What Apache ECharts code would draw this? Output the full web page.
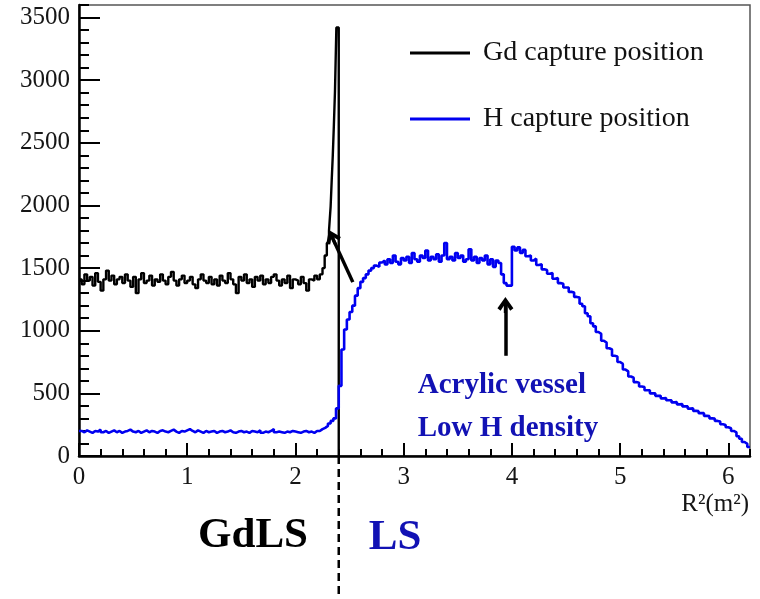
<!DOCTYPE html>
<html>
<head>
<meta charset="utf-8">
<script src="https://cdn.jsdelivr.net/npm/echarts@6/dist/echarts.min.js"></script>
<style>
  html, body { margin: 0; padding: 0; background: #fff; }
  #chart { width: 760px; height: 599px; }
</style>
</head>
<body>
<div id="chart"></div>
<script>
// histogram bins (lower edges at i * binWidth)
const binWidth = 0.025;
const xMax = 6.2;
const yMax = 3600;

// Gd capture position, flat part 0 .. 2.25
const gdFlatCounts = [
  1410, 1370, 1450, 1400, 1430, 1360, 1460, 1390, 1320, 1410,
  1480, 1400, 1440, 1370, 1410, 1430, 1380, 1450, 1400, 1350,
  1430, 1300, 1410, 1460, 1380, 1400, 1440, 1360, 1410, 1390,
  1450, 1400, 1370, 1430, 1470, 1400, 1360, 1410, 1440, 1380,
  1400, 1430, 1370, 1340, 1410, 1450, 1400, 1380, 1430, 1370,
  1410, 1360, 1440, 1400, 1380, 1460, 1410, 1370, 1300, 1430,
  1400, 1450, 1380, 1410, 1350, 1430, 1400, 1440, 1370, 1410,
  1380, 1430, 1450, 1400, 1360, 1410, 1380, 1440, 1340, 1410,
  1400, 1370, 1430, 1380, 1320, 1410, 1400, 1440, 1410, 1450
];
// Gd peak near the GdLS boundary (finer bins)
const gdPeakEdges = [2.25, 2.27, 2.29, 2.31, 2.325, 2.335, 2.345, 2.355, 2.365, 2.378, 2.4];
const gdPeakCounts = [1500, 1600, 1700, 1800, 1990, 2200, 2400, 2640, 2905, 3420, 0];

// H capture position, 0 .. 6.2
const hCounts = [
  200, 190, 205, 195, 185, 200, 195, 210, 190, 200,
  185, 195, 205, 190, 200, 185, 195, 200, 210, 195,
  190, 200, 185, 195, 205, 190, 200, 195, 185, 200,
  205, 195, 190, 200, 210, 195, 185, 200, 195, 205,
  215, 200, 190, 205, 195, 185, 200, 190, 195, 200,
  185, 195, 200, 190, 195, 205, 190, 185, 195, 200,
  190, 195, 185, 200, 195, 190, 205, 185, 195, 190,
  200, 215, 190, 195, 190, 185, 195, 190, 200, 195,
  190, 185, 195, 200, 190, 195, 185, 200, 200, 215,
  225, 240, 260, 280, 300, 380, 560, 850, 1010, 1090,
  1150, 1200, 1280, 1340, 1390, 1420, 1450, 1480, 1500, 1520,
  1510, 1545, 1560, 1530, 1570, 1540, 1600, 1550, 1530, 1580,
  1560, 1590, 1540, 1620, 1570, 1550, 1600, 1580, 1640, 1560,
  1590, 1570, 1610, 1550, 1600, 1700, 1570, 1590, 1560, 1620,
  1580, 1600, 1550, 1570, 1650, 1560, 1590, 1540, 1580, 1560,
  1600, 1530, 1570, 1510, 1560, 1540, 1450, 1380, 1360, 1360,
  1670, 1640, 1665, 1620, 1645, 1595, 1600, 1560, 1575, 1525,
  1530, 1490, 1485, 1455, 1460, 1415, 1420, 1380, 1375, 1345,
  1345, 1310, 1305, 1270, 1265, 1215, 1195, 1140, 1115, 1060,
  1035, 990, 975, 920, 905, 860, 850, 800, 795, 750,
  735, 690, 675, 635, 625, 590, 585, 555, 550, 525,
  525, 500, 500, 480, 480, 460, 462, 445, 445, 428,
  430, 412, 415, 396, 396, 378, 380, 360, 358, 342,
  342, 320, 318, 300, 298, 280, 275, 254, 248, 230,
  222, 200, 188, 158, 138, 112, 97, 72
];

const legendNames = ['Gd capture position', 'H capture position'];
const serif = 'Liberation Serif';

const gdData = gdFlatCounts.map((v, i) => [+(i * binWidth).toFixed(3), v]);
gdPeakEdges.forEach((x, i) => gdData.push([x, gdPeakCounts[i]]));

const hData = hCounts.map((v, i) => [+(i * binWidth).toFixed(3), v]);
hData.push([xMax, hCounts[hCounts.length - 1]]);

// arrow head with a short spine, tip pointing up
const arrowHead = 'path://M5,0 L10,7 L8,8.5 L6,5.5 L6,10 L4,10 L4,5.5 L2,8.5 L0,7 Z';

const chart = echarts.init(document.getElementById('chart'));

// one axis for the long ticks + labels, a second one on the same side for the short ticks
const tickAxis = (pos, len, interval, max, showLine, label) => ({
  type: 'value',
  position: pos,
  min: 0,
  max: max,
  interval: interval,
  axisLine: { show: showLine, onZero: false, lineStyle: { color: '#000', width: 2.5 } },
  axisTick: { show: true, inside: true, length: len, lineStyle: { color: '#000', width: 2 } },
  axisLabel: label ? Object.assign({
    showMaxLabel: false, fontSize: 25, fontFamily: serif, color: '#151515',
    formatter: v => String(v)
  }, label) : { show: false },
  splitLine: { show: false }
});

chart.setOption({
  animation: false,
  backgroundColor: '#fff',
  grid: { left: 79, right: 10, top: 5, bottom: 143, show: true, borderColor: '#555', borderWidth: 1.5 },
  xAxis: [
    tickAxis('bottom', 13, 1, xMax, true, { margin: 9 }),
    tickAxis('bottom', 7, 0.2, xMax, false, null)
  ],
  yAxis: [
    tickAxis('left', 21, 500, yMax, true, { margin: 9 }),
    tickAxis('left', 10, 100, yMax, false, null)
  ],
  legend: {
    orient: 'vertical',
    left: 410,
    top: 39,
    padding: 0,
    itemWidth: 60,
    itemHeight: 3,
    itemGap: 38,
    icon: 'rect',
    data: legendNames,
    textStyle: { fontSize: 28, fontFamily: serif, color: '#111', padding: [0, 0, 0, 8] }
  },
  series: [
    {
      name: legendNames[0],
      type: 'line',
      step: 'end',
      symbol: 'none',
      data: gdData,
      color: '#000',
      lineStyle: { color: '#000', width: 2.4 },
      markLine: {
        silent: true,
        animation: false,
        symbolSize: 16,
        label: { show: false },
        lineStyle: { color: '#000', width: 3.5, type: 'solid' },
        data: [
          [{ coord: [2.53, 1388], symbol: 'none' }, { coord: [2.34, 1745], symbol: arrowHead }],
          [{ coord: [3.94, 800], symbol: 'none' }, { coord: [3.94, 1205], symbol: arrowHead }]
        ]
      }
    },
    {
      name: legendNames[1],
      type: 'line',
      step: 'end',
      symbol: 'none',
      data: hData,
      color: '#0000f0',
      lineStyle: { color: '#0000f0', width: 2.6 }
    }
  ]
});

// annotations
const px = (x, y) => chart.convertToPixel({ xAxisIndex: 0, yAxisIndex: 0 }, [x, y]);
const boundary = px(2.4, 0);
const acrylic = px(3.13, 566);
const lowH = px(3.13, 223);
const textBlue = '#1212b4';

chart.setOption({
  graphic: [
    {
      type: 'line',
      shape: { x1: boundary[0], y1: boundary[1], x2: boundary[0], y2: 599 },
      style: { stroke: '#000', lineWidth: 2.5, lineDash: [8, 5] }
    },
    {
      type: 'text', x: acrylic[0], y: acrylic[1],
      style: { text: 'Acrylic vessel', font: 'bold 29px "Liberation Serif"', fill: textBlue, verticalAlign: 'middle' }
    },
    {
      type: 'text', x: lowH[0], y: lowH[1],
      style: { text: 'Low H density', font: 'bold 29px "Liberation Serif"', fill: textBlue, verticalAlign: 'middle' }
    },
    {
      type: 'text', x: 253, y: 536,
      style: { text: 'GdLS', font: 'bold 43px "Liberation Serif"', fill: '#000', align: 'center', verticalAlign: 'middle' }
    },
    {
      type: 'text', x: 395, y: 538,
      style: { text: 'LS', font: 'bold 43px "Liberation Serif"', fill: textBlue, align: 'center', verticalAlign: 'middle' }
    },
    {
      type: 'text', x: 749, y: 504,
      style: { text: 'R²(m²)', font: '25px "Liberation Serif"', fill: '#151515', align: 'right', verticalAlign: 'middle' }
    }
  ]
});
</script>
</body>
</html>
